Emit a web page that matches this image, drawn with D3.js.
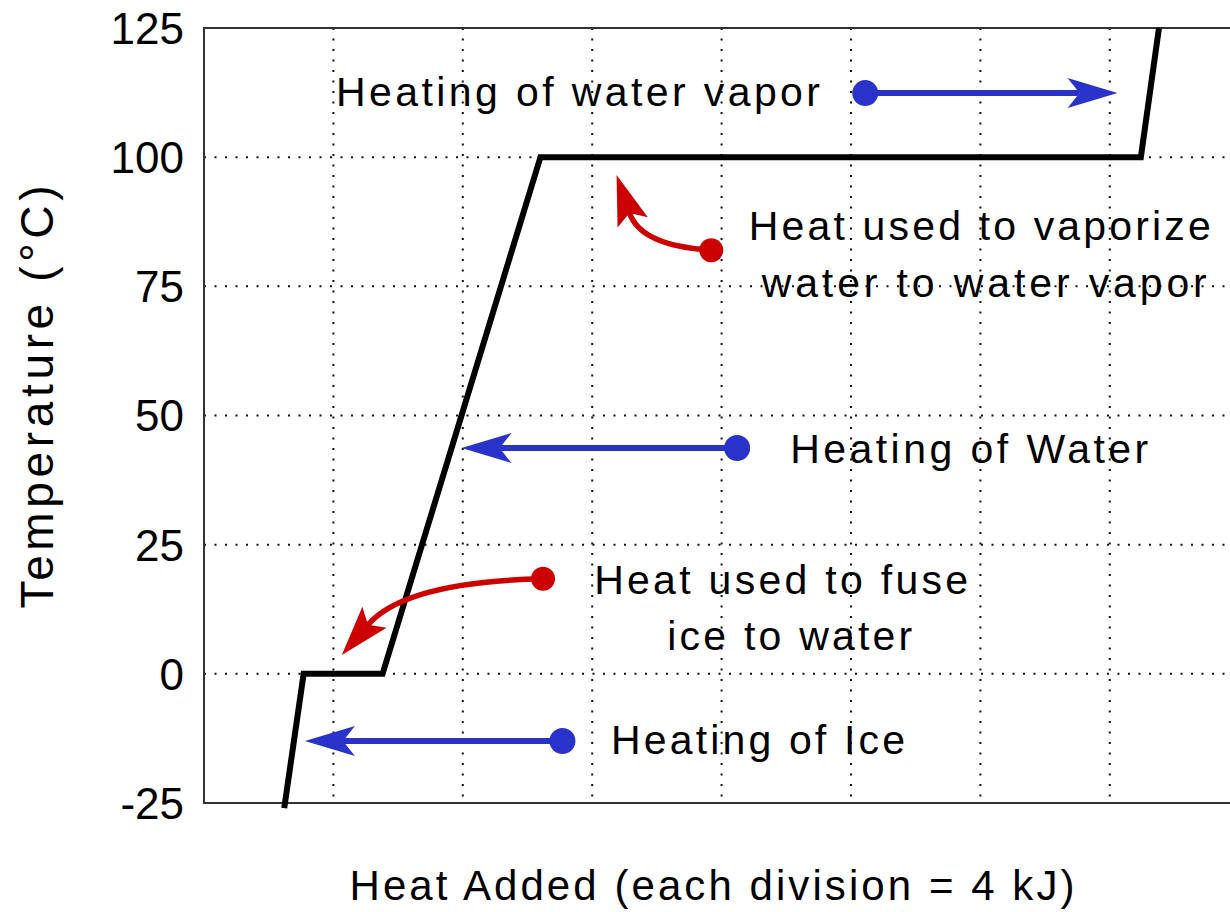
<!DOCTYPE html>
<html>
<head>
<meta charset="utf-8">
<script src="https://cdn.jsdelivr.net/npm/d3@7"></script>
<style>
  body { margin: 0; background: #fff; }
  svg { display: block; font-family: "Liberation Sans", Arial, sans-serif; }
</style>
</head>
<body>
<svg></svg>
<script>
var width = 1230;
var height = 912;

// heat added in grid divisions (4 kJ each), temperature in °C
var curveHeat = [0.62, 0.77, 1.38, 2.6, 7.24, 7.38];
var curveTemp = [-26, 0, 0, 100, 100, 125];

var tempTicks = [-25, 0, 25, 50, 75, 100, 125];
var heatGrid = [1, 2, 3, 4, 5, 6, 7];

// straight arrows: dot -> tip
var straightArrows = [
  { label: "Heating of water vapor", from: [5.11, 112.4], to: [7.06, 112.4] },
  { label: "Heating of Water", from: [4.12, 43.7], to: [1.99, 43.7] },
  { label: "Heating of Ice", from: [2.77, -13], to: [0.78, -13] }
];

// curved arrows: dot, control, end of shaft
var curvedArrows = [
  { label: "vaporize", from: [3.92, 82.0], ctrl: [3.375, 82.8], to: [3.288, 89.2] },
  { label: "fuse", from: [2.62, 18.4], ctrl: [1.553, 17.8], to: [1.267, 9.5] }
];

// annotation text: left x, baseline y (data units), width in px
var notes = [
  { text: "Heating of water vapor", x: 1.02, y: 109.9, len: 484 },
  { text: "Heat used to vaporize", x: 4.21, y: 84.0, len: 462 },
  { text: "water to water vapor", x: 4.31, y: 72.9, len: 445 },
  { text: "Heating of Water", x: 4.53, y: 40.8, len: 358 },
  { text: "Heat used to fuse", x: 3.015, y: 15.5, len: 374 },
  { text: "ice to water", x: 3.58, y: 4.6, len: 245 },
  { text: "Heating of Ice", x: 3.145, y: -15.5, len: 294 }
];

var blue = "#2a33c9";
var red = "#cc0000";

var plotLeft = 204, plotTop = 28, plotBottom = 803;
var x = d3.scaleLinear().domain([0, 8]).range([plotLeft, plotLeft + 8 * 129.4]);
var y = d3.scaleLinear().domain([-25, 125]).range([plotBottom, plotTop]);

var svg = d3.select("svg")
  .attr("width", width)
  .attr("height", height);

// dotted grid
svg.append("g")
  .selectAll("line")
  .data(heatGrid)
  .enter()
  .append("line")
    .attr("x1", d => x(d)).attr("x2", d => x(d))
    .attr("y1", plotTop).attr("y2", plotBottom)
    .attr("stroke", "#111")
    .attr("stroke-width", 2)
    .attr("stroke-dasharray", "2,8.5");

svg.append("g")
  .selectAll("line")
  .data(tempTicks.slice(1, -1))
  .enter()
  .append("line")
    .attr("x1", plotLeft).attr("x2", width)
    .attr("y1", d => y(d)).attr("y2", d => y(d))
    .attr("stroke", "#111")
    .attr("stroke-width", 2)
    .attr("stroke-dasharray", "2,8.5");

// frame: left, top, bottom (right edge runs off the picture)
svg.append("path")
  .attr("d", "M" + width + "," + plotTop + "H" + plotLeft + "V" + plotBottom + "H" + width)
  .attr("fill", "none")
  .attr("stroke", "#333")
  .attr("stroke-width", 2);

// y tick labels
svg.append("g")
  .selectAll("text")
  .data(tempTicks)
  .enter()
  .append("text")
    .attr("x", 184)
    .attr("y", d => y(d))
    .attr("dy", "0.36em")
    .attr("text-anchor", "end")
    .attr("font-size", 44)
    .text(d => d);

// axis titles
svg.append("text")
  .attr("transform", "translate(53,397) rotate(-90)")
  .attr("text-anchor", "middle")
  .attr("font-size", 46)
  .attr("textLength", 423)
  .attr("lengthAdjust", "spacing")
  .text("Temperature (\u00B0C)");

svg.append("text")
  .attr("x", 712)
  .attr("y", 900)
  .attr("text-anchor", "middle")
  .attr("font-size", 42)
  .attr("textLength", 725)
  .attr("lengthAdjust", "spacing")
  .text("Heat Added (each division = 4 kJ)");

// heating curve
var line = d3.line()
  .x(d => x(d[0]))
  .y(d => y(d[1]));

svg.append("path")
  .datum(d3.zip(curveHeat, curveTemp))
  .attr("d", line)
  .attr("fill", "none")
  .attr("stroke", "#000")
  .attr("stroke-width", 6)
  .attr("stroke-linejoin", "miter");

// arrow head with a notch, pointing along (ux, uy) from the notch point
function head(nx, ny, ux, uy, len, half, notch) {
  var tx = nx + ux * notch, ty = ny + uy * notch;
  var bx = tx - ux * len, by = ty - uy * len;
  var px = -uy, py = ux;
  return [[tx, ty], [bx + px * half, by + py * half], [nx, ny], [bx - px * half, by - py * half]];
}

var arrows = svg.append("g");

straightArrows.forEach(function(a) {
  var x0 = x(a.from[0]), y0 = y(a.from[1]);
  var x1 = x(a.to[0]), y1 = y(a.to[1]);
  var L = Math.hypot(x1 - x0, y1 - y0);
  var ux = (x1 - x0) / L, uy = (y1 - y0) / L;
  var nx = x1 - ux * 38, ny = y1 - uy * 38;
  arrows.append("line")
    .attr("x1", x0).attr("y1", y0)
    .attr("x2", nx).attr("y2", ny)
    .attr("stroke", blue)
    .attr("stroke-width", 6);
  arrows.append("polygon")
    .attr("points", head(nx, ny, ux, uy, 50, 15, 38).join(" "))
    .attr("fill", blue);
  arrows.append("circle")
    .attr("cx", x0).attr("cy", y0)
    .attr("r", 13)
    .attr("fill", blue);
});

curvedArrows.forEach(function(a) {
  var x0 = x(a.from[0]), y0 = y(a.from[1]);
  var cx = x(a.ctrl[0]), cy = y(a.ctrl[1]);
  var x1 = x(a.to[0]), y1 = y(a.to[1]);
  var L = Math.hypot(x1 - cx, y1 - cy);
  var ux = (x1 - cx) / L, uy = (y1 - cy) / L;
  var p = d3.path();
  p.moveTo(x0, y0);
  p.quadraticCurveTo(cx, cy, x1, y1);
  arrows.append("path")
    .attr("d", p.toString())
    .attr("fill", "none")
    .attr("stroke", red)
    .attr("stroke-width", 5.5);
  arrows.append("polygon")
    .attr("points", head(x1, y1, ux, uy, 50, 16, 40).join(" "))
    .attr("fill", red);
  arrows.append("circle")
    .attr("cx", x0).attr("cy", y0)
    .attr("r", 12)
    .attr("fill", red);
});

// annotation text
svg.append("g")
  .selectAll("text")
  .data(notes)
  .enter()
  .append("text")
    .attr("x", d => x(d.x))
    .attr("y", d => y(d.y))
    .attr("font-size", 41)
    .attr("textLength", d => d.len)
    .attr("lengthAdjust", "spacing")
    .text(d => d.text);
</script>
</body>
</html>
